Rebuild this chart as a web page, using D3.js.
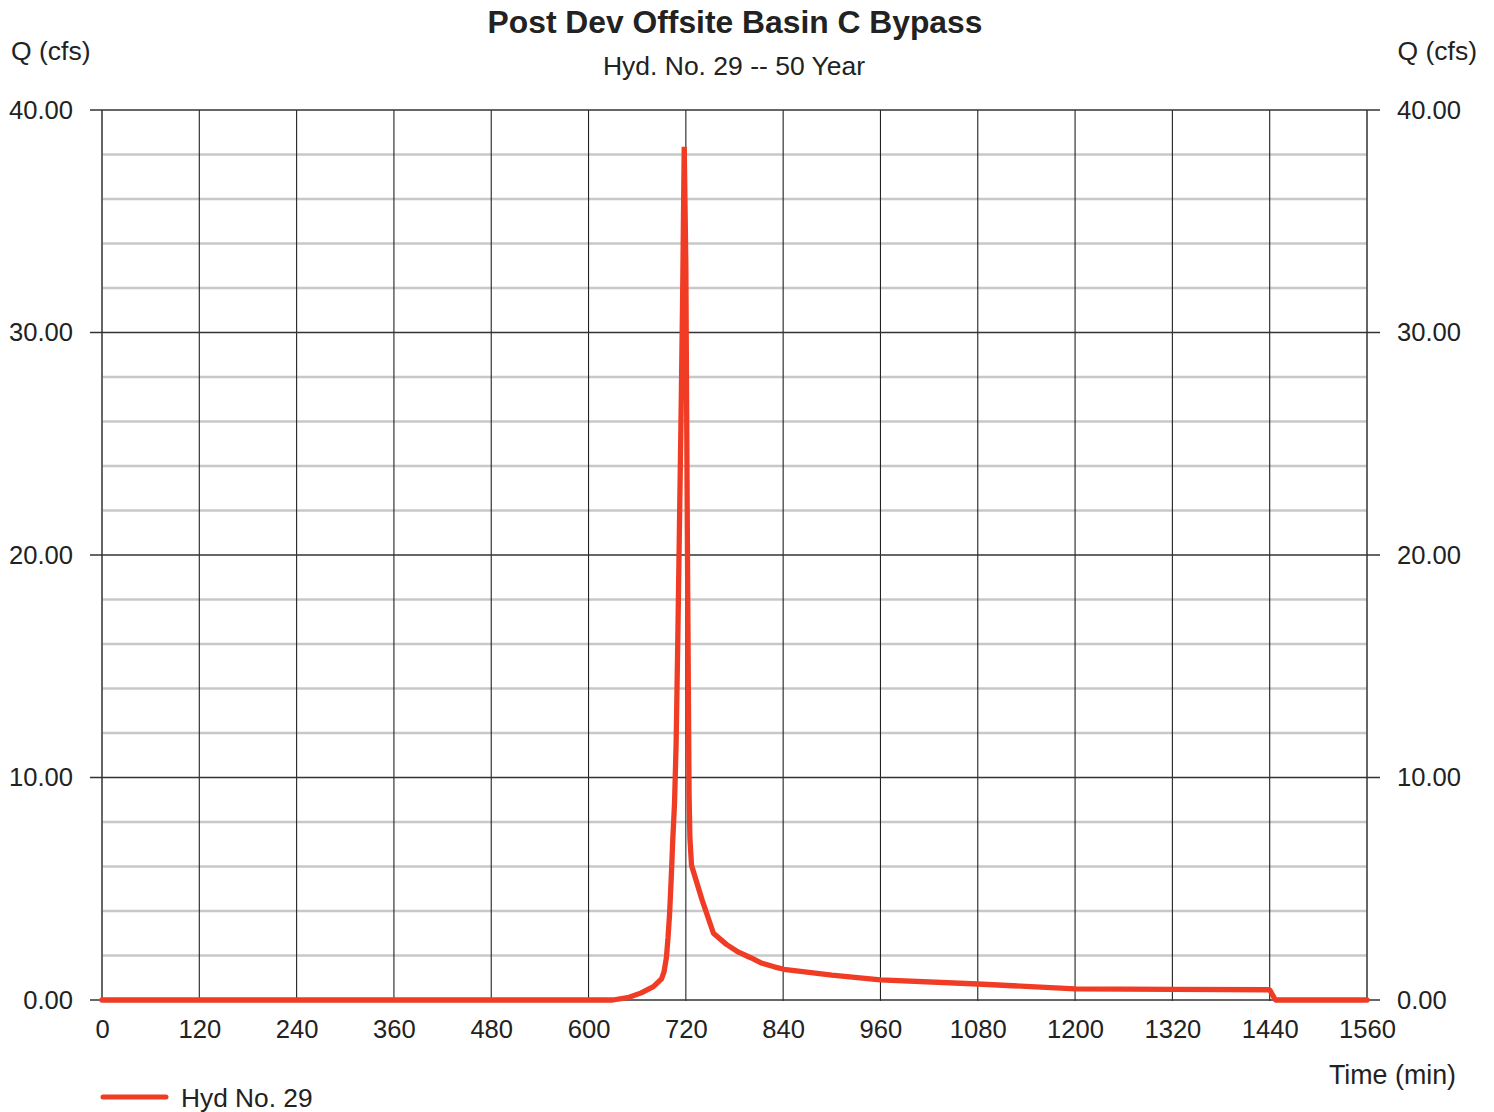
<!DOCTYPE html>
<html><head><meta charset="utf-8">
<script src="https://cdn.jsdelivr.net/npm/d3@7"></script>
<style>
html,body{margin:0;padding:0;background:#fff;}
text{font-family:"Liberation Sans",Arial,sans-serif;fill:#222;}
</style></head>
<body>
<svg id="chart" width="1494" height="1112"></svg>
<script>
const title = "Post Dev Offsite Basin C Bypass";
const subtitle = "Hyd. No. 29 -- 50 Year";
const seriesName = "Hyd No. 29";
const xTicks = [0,120,240,360,480,600,720,840,960,1080,1200,1320,1440,1560];
const yMajorTicks = [0,10,20,30,40];
const yMinorTicks = [2,4,6,8,12,14,16,18,22,24,26,28,32,34,36,38];
const timeMin = [0,630,650,665,680,690,693,696,698,700,702,704,706,708,710,712,714,716,718,720,722,724,725,727,740,754,770,785,800,814,830,841,900,960,1080,1200,1320,1440,1447,1560];
const flowCfs = [0,0,0.12,0.32,0.6,0.95,1.25,1.9,2.8,3.9,5.5,7.3,8.8,11.5,16,21,26,31.5,38.35,33,20,9.2,7.3,6.05,4.5,3.0,2.5,2.15,1.9,1.65,1.48,1.38,1.12,0.9,0.72,0.5,0.48,0.46,0,0];

const svg = d3.select("#chart");
const x = d3.scaleLinear().domain([0,1560]).range([102,1367]);
const y = d3.scaleLinear().domain([0,40]).range([1000,110]);

// minor horizontal grid
svg.append("g").selectAll("line").data(yMinorTicks).join("line")
  .attr("x1",x(0)).attr("x2",x(1560)).attr("y1",d=>y(d)).attr("y2",d=>y(d))
  .attr("stroke","#c8c8c8").attr("stroke-width",2.5);

// vertical grid
svg.append("g").selectAll("line").data(xTicks).join("line")
  .attr("x1",d=>x(d)).attr("x2",d=>x(d)).attr("y1",y(40)).attr("y2",y(0)+1)
  .attr("stroke",d=>(d===0||d===1560)?"#555":"#222")
  .attr("stroke-width",d=>(d===0||d===1560)?1.8:1.1);

// major horizontal lines (with ticks out both sides)
svg.append("g").selectAll("line").data(yMajorTicks).join("line")
  .attr("x1",x(0)-12).attr("x2",x(1560)+13).attr("y1",d=>y(d)).attr("y2",d=>y(d))
  .attr("stroke","#333").attr("stroke-width",1.3);

// axes labels via d3 axes (tick text only)
const fmt = d3.format(".2f");
const yl = svg.append("g").attr("transform",`translate(${x(0)-29},0)`)
  .call(d3.axisLeft(y).tickValues(yMajorTicks).tickFormat(fmt).tickSize(0).tickPadding(0));
const yr = svg.append("g").attr("transform",`translate(${x(1560)+30},0)`)
  .call(d3.axisRight(y).tickValues(yMajorTicks).tickFormat(fmt).tickSize(0).tickPadding(0));
const xa = svg.append("g").attr("transform",`translate(0,${y(0)+20})`)
  .call(d3.axisBottom(x).tickValues(xTicks).tickFormat(d3.format("d")).tickSize(0).tickPadding(0));
[yl,yr,xa].forEach(g=>{
  g.select(".domain").remove();
  g.selectAll("text").style("font-family","'Liberation Sans',Arial,sans-serif")
   .style("font-size","25.6px").attr("fill","#222");
});

// series line
const line = d3.line().x((d,i)=>x(timeMin[i])).y((d,i)=>y(flowCfs[i]));
svg.append("path").datum(flowCfs).attr("d",line)
  .attr("fill","none").attr("stroke","#f03c24").attr("stroke-width",5.3)
  .attr("stroke-linejoin","bevel").attr("stroke-linecap","round");

// titles
svg.append("text").attr("x",735).attr("y",33).attr("text-anchor","middle")
  .style("font-size","31.8px").style("font-weight","bold").text(title);
svg.append("text").attr("x",734).attr("y",75).attr("text-anchor","middle")
  .style("font-size","26.5px").text(subtitle);
svg.append("text").attr("x",11).attr("y",60).style("font-size","26.5px").text("Q (cfs)");
svg.append("text").attr("x",1477).attr("y",60).attr("text-anchor","end").style("font-size","26.5px").text("Q (cfs)");
svg.append("text").attr("x",1456).attr("y",1084).attr("text-anchor","end").style("font-size","26.8px").text("Time (min)");

// legend
svg.append("line").attr("x1",103).attr("x2",166).attr("y1",1097).attr("y2",1097)
  .attr("stroke","#f03c24").attr("stroke-width",5).attr("stroke-linecap","round");
svg.append("text").attr("x",181).attr("y",1107).style("font-size","26.3px").text(seriesName);
</script>
</body></html>
